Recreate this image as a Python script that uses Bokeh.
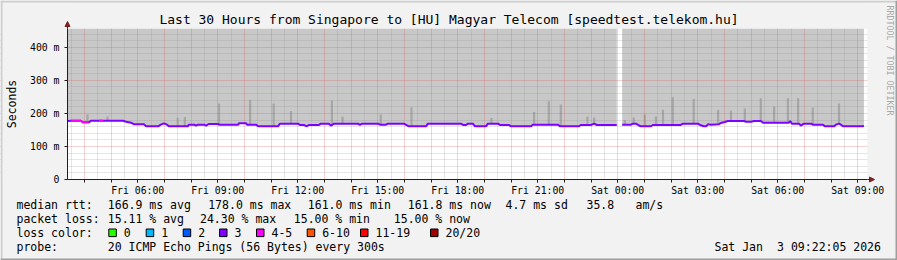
import numpy as np
import pandas as pd
from bokeh.plotting import figure
from bokeh.models import (Range1d, FixedTicker, Grid, Label, BoxAnnotation, Arrow,
                          NormalHead, DatetimeTickFormatter)
from bokeh.embed import file_html
from bokeh.resources import INLINE

# ---------------------------------------------------------------- data
TITLE = "Last 30 Hours from Singapore to [HU] Magyar Telecom [speedtest.telekom.hu]"
START = "Fri 03:22:05"
END = "Sat 09:22:05"
Y_MAX = 457

MEDIAN_TIME = [
    "Fri 03:23", "Fri 03:30", "Fri 03:52", "Fri 03:57", "Fri 04:10", "Fri 04:15", "Fri 04:33", "Fri 04:42",
    "Fri 05:27", "Fri 05:34", "Fri 05:45", "Fri 05:52", "Fri 06:14", "Fri 06:19", "Fri 06:46", "Fri 06:52",
    "Fri 06:59", "Fri 07:06", "Fri 07:10", "Fri 07:53", "Fri 07:55", "Fri 08:07", "Fri 08:11", "Fri 08:16",
    "Fri 08:29", "Fri 08:34", "Fri 08:40", "Fri 09:01", "Fri 09:03", "Fri 09:46", "Fri 09:48", "Fri 10:04",
    "Fri 10:06", "Fri 10:26", "Fri 10:31", "Fri 11:16", "Fri 11:20", "Fri 12:01", "Fri 12:05", "Fri 12:14",
    "Fri 12:21", "Fri 12:25", "Fri 12:48", "Fri 12:52", "Fri 13:10", "Fri 13:15", "Fri 13:22", "Fri 14:16",
    "Fri 14:20", "Fri 14:25", "Fri 15:01", "Fri 15:05", "Fri 15:19", "Fri 15:23", "Fri 15:59", "Fri 16:06",
    "Fri 16:10", "Fri 16:49", "Fri 16:53", "Fri 18:07", "Fri 18:12", "Fri 18:19", "Fri 18:23", "Fri 18:34",
    "Fri 18:39", "Fri 19:04", "Fri 19:08", "Fri 19:31", "Fri 19:35", "Fri 19:55", "Fri 20:00", "Fri 20:45",
    "Fri 20:49", "Fri 21:46", "Fri 21:50", "Fri 22:33", "Fri 22:37", "Fri 23:00", "Fri 23:07", "Fri 23:13",
    "Fri 23:58",
    None,
    "Sat 00:10", "Sat 00:30", "Sat 00:34", "Sat 00:41", "Sat 00:46", "Sat 00:52", "Sat 01:15", "Sat 01:19",
    "Sat 02:22", "Sat 02:27", "Sat 03:01", "Sat 03:05", "Sat 03:14", "Sat 03:19", "Sat 03:23", "Sat 03:30",
    "Sat 03:48", "Sat 03:52", "Sat 04:01", "Sat 04:08", "Sat 04:44", "Sat 04:49", "Sat 05:00", "Sat 05:07",
    "Sat 05:22", "Sat 05:27", "Sat 06:25", "Sat 06:28", "Sat 06:32", "Sat 06:48", "Sat 06:52", "Sat 06:59",
    "Sat 07:15", "Sat 07:19", "Sat 07:42", "Sat 07:46", "Sat 08:07", "Sat 08:11", "Sat 08:18", "Sat 08:22",
    "Sat 08:27", "Sat 09:10", "Sat 09:14",
]
MEDIAN_MS = [
    177, 178, 178, 173, 173, 178, 178, 178,
    178, 175, 172, 167, 167, 161, 161, 166,
    170, 166, 161, 161, 166, 166, 163, 166,
    166, 163, 168, 168, 166, 166, 170, 170,
    166, 166, 161, 161, 169, 169, 165, 165,
    161, 165, 165, 169, 169, 163, 169, 169,
    165, 169, 169, 166, 166, 169, 169, 164,
    161, 161, 169, 169, 165, 165, 169, 169,
    161, 161, 169, 169, 165, 165, 161, 161,
    166, 166, 161, 161, 165, 165, 169, 165,
    165,
    None,
    166, 166, 169, 169, 165, 161, 161, 165,
    165, 169, 169, 165, 161, 161, 167, 166,
    167, 171, 174, 177, 177, 175, 175, 177,
    177, 172, 172, 177, 169, 169, 163, 169,
    169, 166, 166, 161, 161, 166, 169, 166,
    161, 161, 162,
]
# periods where the median line shows 4-5 lost pings (otherwise 3 of 20)
LOSS_4_5_PERIODS = [("Fri 03:30", "Fri 04:10"), ("Fri 04:33", "Fri 04:42")]

SPIKE_TIME = [
    "Fri 04:07", "Fri 04:52", "Fri 07:30", "Fri 07:46", "Fri 09:03", "Fri 10:13", "Fri 11:06", "Fri 11:45",
    "Fri 13:17", "Fri 13:41", "Fri 15:07", "Fri 16:16", "Fri 19:16", "Fri 20:52", "Fri 21:25", "Fri 21:52",
    "Fri 22:52", "Fri 23:07", "Sat 00:16", "Sat 00:36", "Sat 01:01", "Sat 01:26", "Sat 01:42", "Sat 02:04",
    "Sat 02:51", "Sat 03:46", "Sat 04:15", "Sat 04:46", "Sat 05:22", "Sat 05:52", "Sat 06:23", "Sat 06:46",
    "Sat 07:19", "Sat 08:18",
]
SPIKE_MS = [
    197, 191, 187, 189, 230, 241, 230, 207,
    239, 191, 197, 219, 186, 204, 237, 227,
    191, 188, 180, 188, 197, 191, 211, 249,
    244, 211, 208, 215, 246, 222, 246, 246,
    218, 230,
]

Y_TICKS = [0, 100, 200, 300, 400]
Y_LABELS = ["0", "100 m", "200 m", "300 m", "400 m"]
X_LABEL_TICKS = ["Fri 06:00", "Fri 09:00", "Fri 12:00", "Fri 15:00", "Fri 18:00", "Fri 21:00",
                 "Sat 00:00", "Sat 03:00", "Sat 06:00", "Sat 09:00"]

RTT_STATS = ["166.9 ms avg", "178.0 ms max", "161.0 ms min", "161.8 ms now", "4.7 ms sd", "35.8", "am/s"]
LOSS_STATS = ["15.11 % avg", "24.30 % max", "15.00 % min", "15.00 % now"]
LOSS_BUCKETS = ["0", "1", "2", "3", "4-5", "6-10", "11-19", "20/20"]
LOSS_COLORS = ["#26ff00", "#00b8ff", "#0059ff", "#7e00ff", "#ff00ff", "#ff5500", "#ff0000", "#a00000"]
PROBE = "20 ICMP Echo Pings (56 Bytes) every 300s"
STAMP = ["Sat Jan", "3 09:22:05 2026"]

# ---------------------------------------------------------------- helpers
DAY_DATE = {"Fri": "2026-01-02", "Sat": "2026-01-03"}


def ts(s):
    d, hm = s.split(" ", 1)
    return pd.Timestamp(f"{DAY_DATE[d]} {hm}")


def ms(t):
    return t.value / 1e6


W, H = 897, 260
FL, FR, FT, FB = 67, 867, 28, 179          # chart area edges, page pixels
FONT = "DejaVu Sans Mono"
BG = "#f2f2f2"
SMOKE = "#c8c8c8"
SPIKE = "#a6a6a6"

T0, T1 = ms(ts(START)), ms(ts(END))
MS_PER_PX = (T1 - T0) / (FR - FL)
PX_PER_UNIT = (FB - FT) / Y_MAX

# the frame covers the whole canvas; the chart area is placed inside it through the ranges
p = figure(width=W, height=H, x_axis_type="datetime", output_backend="svg", toolbar_location=None,
           x_range=Range1d(T0 - FL * MS_PER_PX, T1 + (W - FR) * MS_PER_PX),
           y_range=Range1d(-(H - FB) / PX_PER_UNIT, Y_MAX + FT / PX_PER_UNIT),
           min_border=0, min_border_left=0, min_border_right=0, min_border_top=0, min_border_bottom=0,
           background_fill_color=BG, border_fill_color=BG, outline_line_color=None, title=None)


def sx(px):
    return px


def sy(py):
    return H - py


# white chart canvas
p.add_layout(BoxAnnotation(left=T0, right=T1, bottom=0, top=Y_MAX, fill_color="white", fill_alpha=1,
                           line_color=None, level="underlay"))

# ---------------------------------------------------------------- smoke + median
pieces, cur = [], []
for t, v in zip(MEDIAN_TIME, MEDIAN_MS):
    if t is None:
        pieces.append(cur)
        cur = []
    else:
        cur.append((ts(t), v))
pieces.append(cur)

for piece in pieces:
    xs = [a for a, _ in piece]
    ys = [b for _, b in piece]
    p.varea(x=xs, y1=ys, y2=[Y_MAX] * len(ys), fill_color=SMOKE, fill_alpha=1)

valid = [(ms(ts(t)), v) for t, v in zip(MEDIAN_TIME, MEDIAN_MS) if t is not None]
vx = np.array([a for a, _ in valid])
vy = np.array([b for _, b in valid])
spx = [ts(t) for t in SPIKE_TIME]
bottoms = np.interp([ms(t) for t in spx], vx, vy)
p.vbar(x=spx, width=5 * 60 * 1000, bottom=bottoms, top=SPIKE_MS, fill_color=SPIKE, line_color=None)

for piece in pieces:
    xs = [a for a, _ in piece]
    ys = [b for _, b in piece]
    r = p.line(xs, ys, line_color=LOSS_COLORS[3], line_width=2)
    r.level = "annotation"

for a, b in LOSS_4_5_PERIODS:
    ta, tb = ts(a), ts(b)
    sel = [(ts(t), v) for t, v in zip(MEDIAN_TIME, MEDIAN_MS) if t is not None and ta <= ts(t) <= tb]
    r = p.line([q[0] for q in sel], [q[1] for q in sel], line_color=LOSS_COLORS[4], line_width=2)
    r.level = "annotation"

# ---------------------------------------------------------------- grids
p.xgrid.visible = False
p.ygrid.visible = False
hours = pd.date_range(ts("Fri 04:00"), ts("Sat 09:00"), freq="1h")
halves = pd.date_range(ts("Fri 03:30"), ts("Sat 08:30"), freq="1h")
xg = Grid(dimension=0, ticker=FixedTicker(ticks=[ms(t) for t in hours], minor_ticks=[ms(t) for t in halves]),
          grid_line_color="#de4f4f", grid_line_alpha=0.5, grid_line_dash="1 1",
          minor_grid_line_color="#8f8f8f", minor_grid_line_alpha=0.45, minor_grid_line_dash="1 1")
y_minor = [v for v in range(20, Y_MAX, 20) if v % 100]
yg = Grid(dimension=1, ticker=FixedTicker(ticks=Y_TICKS[1:], minor_ticks=y_minor),
          grid_line_color="#de4f4f", grid_line_alpha=0.5, grid_line_dash="1 1",
          minor_grid_line_color="#8f8f8f", minor_grid_line_alpha=0.45, minor_grid_line_dash="1 1")
xg.level = "guide"
yg.level = "guide"
p.add_layout(xg)
p.add_layout(yg)

# masks keep the grid inside the chart area
for l, r, t, b in [(0, W, 0, FT), (0, W, FB, H), (0, FL, 0, H), (FR, W, 0, H)]:
    p.add_layout(BoxAnnotation(left=sx(l), right=sx(r), top=sy(t), bottom=sy(b),
                               left_units="screen", right_units="screen", top_units="screen",
                               bottom_units="screen", fill_color=BG, fill_alpha=1, line_color=None,
                               level="annotation"))

# ---------------------------------------------------------------- axes
xa = p.xaxis[0]
ya = p.yaxis[0]
xa.fixed_location = 0
ya.fixed_location = T0
xa.bounds = (T0, T1)
ya.bounds = (0, Y_MAX)
xa.ticker = FixedTicker(ticks=[ms(ts(t)) for t in X_LABEL_TICKS], minor_ticks=[ms(t) for t in hours])
fmt = "%a %H:%M"
xa.formatter = DatetimeTickFormatter(hours=fmt, hourmin=fmt, days=fmt, minutes=fmt, minsec=fmt)
ya.ticker = FixedTicker(ticks=Y_TICKS, minor_ticks=[])
ya.major_label_overrides = dict(zip(Y_TICKS, Y_LABELS))
for ax in (xa, ya):
    ax.level = "overlay"
    ax.axis_line_color = "#1f1f1f"
    ax.major_tick_line_color = "#1f1f1f"
    ax.minor_tick_line_color = "#1f1f1f"
    ax.major_tick_in = 0
    ax.major_tick_out = 3
    ax.minor_tick_in = 0
    ax.minor_tick_out = 3
    ax.major_label_text_font = FONT
    ax.major_label_text_font_size = "9.8px"
    ax.major_label_text_color = "black"
xa.major_label_standoff = 2
ya.major_label_standoff = 5

# axis arrows
for x0, y0, x1, y1 in [(FL, FT, FL, 21), (FR, FB, 874, FB)]:
    p.add_layout(Arrow(x_start=sx(x0), y_start=sy(y0), x_end=sx(x1), y_end=sy(y1),
                       start_units="screen", end_units="screen", line_color="#1f1f1f", line_width=1,
                       level="overlay",
                       end=NormalHead(size=5, fill_color="#801f1f", line_color="#801f1f")))


# ---------------------------------------------------------------- texts
def text(px, py, s, size="11.5px", align="left", color="black", angle=0.0):
    p.add_layout(Label(x=sx(px), y=sy(py), x_units="screen", y_units="screen", text=s,
                       text_font=FONT, text_font_size=size, text_color=color,
                       text_align=align, text_baseline="middle", angle=angle, level="overlay"))


text(W / 2, 19, TITLE, size="13px", align="center")
text(11, 103.5, "Seconds", size="11.5px", align="center", angle=np.pi / 2)
text(889, 5, "RRDTOOL / TOBI OETIKER", size="8.3px", color="#a8a8a8", angle=-np.pi / 2)

ROW = [204.3, 218.3, 232.3, 246.3]
text(16, ROW[0], "median rtt:")
for s, x in zip(RTT_STATS, [107.3, 207.7, 307.3, 407.3, 505, 586, 635]):
    text(x, ROW[0], s)
text(16, ROW[1], "packet loss:")
for s, x in zip(LOSS_STATS, [107.3, 199.5, 293.3, 393.3]):
    text(x, ROW[1], s)
text(16, ROW[2], "loss color:")
box_x = [108.3, 145.7, 182.7, 219.0, 256.0, 306.7, 360.0, 430.0]
for lab, col, bx in zip(LOSS_BUCKETS, LOSS_COLORS, box_x):
    p.add_layout(BoxAnnotation(left=sx(bx), right=sx(bx + 7.5), top=sy(ROW[2] - 3.8), bottom=sy(ROW[2] + 3.8),
                               left_units="screen", right_units="screen", top_units="screen",
                               bottom_units="screen", fill_color=col, fill_alpha=1,
                               line_color="black", line_width=1, line_alpha=1, level="overlay"))
    text(bx + 15, ROW[2], lab)
text(16, ROW[3], "probe:")
text(107.3, ROW[3], PROBE)
text(714, ROW[3], STAMP[0])
text(776.6, ROW[3], STAMP[1])

# canvas shade border
for l, r, t, b, c in [(0, W, 0, 2, "#cecece"), (0, 2, 0, H, "#cecece"),
                      (0, W, H - 2, H, "#9e9e9e"), (W - 2, W, 0, H, "#9e9e9e")]:
    p.add_layout(BoxAnnotation(left=sx(l), right=sx(r), top=sy(t), bottom=sy(b),
                               left_units="screen", right_units="screen", top_units="screen",
                               bottom_units="screen", fill_color=c, fill_alpha=1, line_color=None,
                               level="overlay"))

open("out.html", "w").write(file_html(p, INLINE))
